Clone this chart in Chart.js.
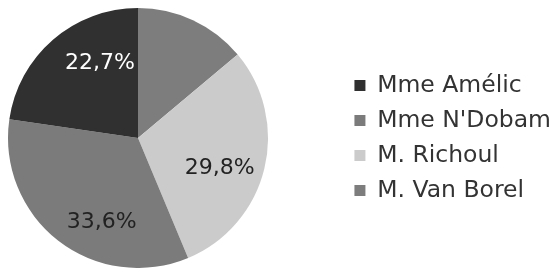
<!DOCTYPE html>
<html>
<head>
<meta charset="utf-8">
<script src="https://cdn.jsdelivr.net/npm/chart.js@4"></script>
<style>
  html, body { margin: 0; padding: 0; background: #ffffff; }
  #wrap { width: 555px; height: 268px; }
</style>
</head>
<body>
<div id="wrap"><canvas id="c" width="555" height="268"></canvas></div>
<script>
// Legend order (as shown in the reference)
const categories = ['Mme Amélic', "Mme N'Dobam", 'M. Richoul', 'M. Van Borel'];
const shares = [22.7, 33.6, 29.8, 13.9];
const sliceColors = ['#303030', '#7b7b7b', '#cbcbcb', '#7d7d7d'];
const labelColors = ['#ffffff', '#222222', '#222222', '#222222'];

// Slices run clockwise from the top in reverse legend order
const drawLabels = categories.slice().reverse();
const drawValues = shares.slice().reverse();
const drawColors = sliceColors.slice().reverse();
const drawLabelColors = labelColors.slice().reverse();

// label placement tweaks (style only), keyed by category
const labelNudge = {
  'Mme Amélic': [19, -9],
  "Mme N'Dobam": [17, 15],
  'M. Richoul': [-3, 10],
  'M. Van Borel': [0, 0]
};

const squarePie = {
  id: 'squarePie',
  afterLayout(chart) {
    const a = chart.chartArea;
    const h = a.bottom - a.top;
    a.right = a.left + h;
    a.width = h;
  }
};

const pctLabels = {
  id: 'pctLabels',
  afterDatasetsDraw(chart) {
    const ctx = chart.ctx;
    const meta = chart.getDatasetMeta(0);
    const ds = chart.data.datasets[0];
    const total = ds.data.reduce((s, v) => s + v, 0);
    ctx.save();
    ctx.font = '22px "DejaVu Sans"';
    ctx.textAlign = 'center';
    ctx.textBaseline = 'middle';
    meta.data.forEach((arc, i) => {
      const v = ds.data[i];
      const pct = v / total * 100;
      if (pct < 15) return;
      const p = arc.getProps(['x', 'y', 'startAngle', 'endAngle', 'outerRadius'], true);
      const mid = (p.startAngle + p.endAngle) / 2;
      const r = p.outerRadius * 0.67;
      const nudge = labelNudge[chart.data.labels[i]] || [0, 0];
      const x = p.x + Math.cos(mid) * r + nudge[0];
      const y = p.y + Math.sin(mid) * r + nudge[1];
      ctx.fillStyle = drawLabelColors[i];
      ctx.fillText(pct.toFixed(1).replace('.', ',') + '%', x, y);
    });
    ctx.restore();
  }
};

new Chart(document.getElementById('c'), {
  type: 'pie',
  data: {
    labels: drawLabels,
    datasets: [{
      data: drawValues,
      backgroundColor: drawColors,
      borderWidth: 0
    }]
  },
  options: {
    responsive: false,
    devicePixelRatio: 1,
    animation: false,
    layout: { padding: { left: 8, top: 8, right: -6, bottom: 0 } },
    plugins: {
      legend: {
        position: 'right',
        align: 'center',
        reverse: true,
        labels: {
          boxWidth: 11,
          boxHeight: 11,
          padding: 11.5,
          color: '#333333',
          font: { family: '"DejaVu Sans"', size: 23.5 }
        }
      },
      tooltip: { enabled: false }
    }
  },
  plugins: [squarePie, pctLabels]
});
</script>
</body>
</html>
